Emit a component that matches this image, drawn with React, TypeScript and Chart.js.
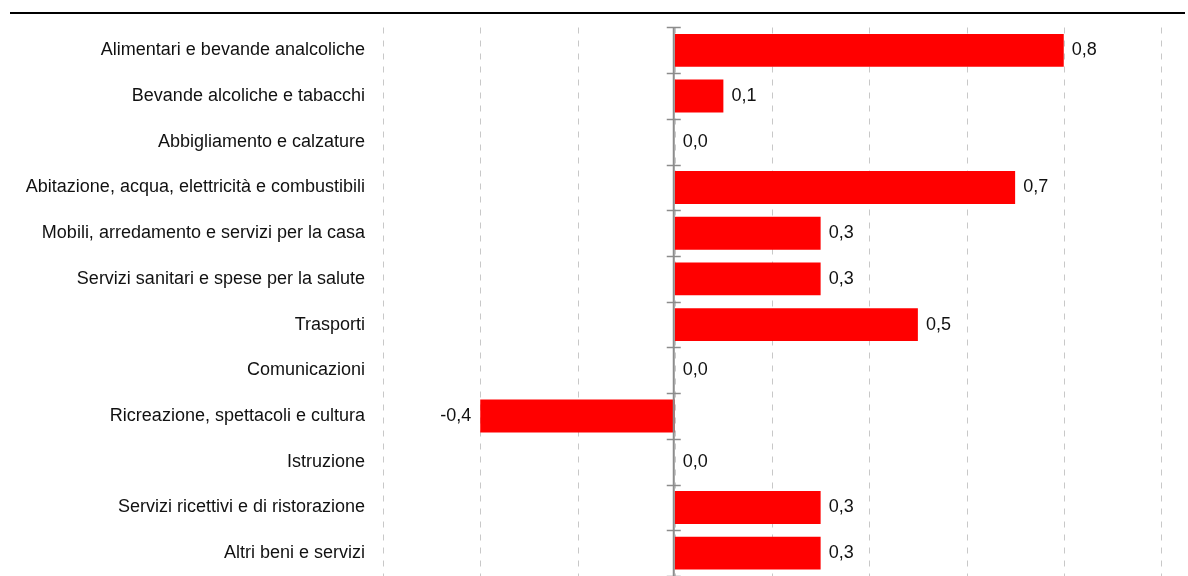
import React, { useEffect, useRef } from "react";
import { Chart, registerables } from "chart.js";

Chart.register(...registerables);

const categories = [
  "Alimentari e bevande analcoliche",
  "Bevande alcoliche e tabacchi",
  "Abbigliamento e calzature",
  "Abitazione, acqua, elettricità e combustibili",
  "Mobili, arredamento e servizi per la casa",
  "Servizi sanitari e spese per la salute",
  "Trasporti",
  "Comunicazioni",
  "Ricreazione, spettacoli e cultura",
  "Istruzione",
  "Servizi ricettivi e di ristorazione",
  "Altri beni e servizi",
];

const values = [0.8, 0.1, 0.0, 0.7, 0.3, 0.3, 0.5, 0.0, -0.4, 0.0, 0.3, 0.3];

const xMin = -0.6;
const xMax = 1.0;
const xStep = 0.2;

const FONT = "'Liberation Sans', Arial, sans-serif";

const fmt = (v: number) => v.toFixed(1).replace(".", ",");

const decorPlugin = {
  id: "decor",
  beforeDatasetsDraw(chart: any) {
    const { ctx, chartArea, scales } = chart;
    const x = scales.x;
    ctx.save();
    ctx.strokeStyle = "#c8c8c8";
    ctx.lineWidth = 1;
    ctx.setLineDash([6, 7]);
    const n = Math.round((xMax - xMin) / xStep);
    for (let i = 0; i <= n; i++) {
      const v = xMin + i * xStep;
      const px = Math.round(x.getPixelForValue(v)) + 0.5;
      ctx.beginPath();
      ctx.moveTo(px, chartArea.top);
      ctx.lineTo(px, chartArea.bottom);
      ctx.stroke();
    }
    ctx.restore();
  },
  afterDatasetsDraw(chart: any) {
    const { ctx, chartArea, scales } = chart;
    const x = scales.x;
    const y = scales.y;
    const x0 = x.getPixelForValue(0);
    ctx.save();
    ctx.strokeStyle = "#8c8c8c";
    ctx.lineWidth = 2;
    ctx.beginPath();
    ctx.moveTo(x0 - 1, chartArea.top);
    ctx.lineTo(x0 - 1, chartArea.bottom);
    ctx.stroke();
    const step = y.getPixelForValue(1) - y.getPixelForValue(0);
    ctx.lineWidth = 1.5;
    for (let i = 0; i <= categories.length; i++) {
      const py = Math.round(y.getPixelForValue(0) - step / 2 + i * step) + 0.5;
      ctx.beginPath();
      ctx.moveTo(x0 - 8, py);
      ctx.lineTo(x0 + 6, py);
      ctx.stroke();
    }
    ctx.fillStyle = "#111";
    ctx.font = `18px ${FONT}`;
    ctx.textBaseline = "middle";
    values.forEach((v, i) => {
      const py = y.getPixelForValue(i);
      const px = x.getPixelForValue(v);
      if (v < 0) {
        ctx.textAlign = "right";
        ctx.fillText(fmt(v), px - 9, py);
      } else {
        ctx.textAlign = "left";
        ctx.fillText(fmt(v), px + 8, py);
      }
    });
    ctx.restore();
  },
  afterDraw(chart: any) {
    const { ctx } = chart;
    ctx.save();
    ctx.strokeStyle = "#000";
    ctx.lineWidth = 2;
    ctx.beginPath();
    ctx.moveTo(10, 13);
    ctx.lineTo(1185, 13);
    ctx.stroke();
    ctx.restore();
  },
};

export default function App() {
  const ref = useRef<HTMLCanvasElement | null>(null);

  useEffect(() => {
    document.body.style.margin = "0";
    if (!ref.current) return;
    const chart = new Chart(ref.current, {
      type: "bar",
      data: {
        labels: categories,
        datasets: [
          {
            data: values,
            backgroundColor: "#ff0000",
            borderWidth: 0,
            categoryPercentage: 0.8,
            barPercentage: 0.9,
          },
        ],
      },
      options: {
        indexAxis: "y",
        animation: false,
        responsive: false,
        maintainAspectRatio: false,
        layout: { padding: { top: 27.5, right: 27, bottom: 0, left: 0 } },
        plugins: {
          legend: { display: false },
          tooltip: { enabled: false },
        },
        scales: {
          x: {
            display: false,
            min: xMin,
            max: xMax,
          },
          y: {
            ticks: {
              padding: 18,
              color: "#111",
              font: { family: FONT, size: 18 },
            },
            grid: { display: false, drawTicks: false },
            border: { display: false },
            afterFit: (scale: any) => {
              scale.width = 383;
              scale.paddingTop = 0;
              scale.paddingBottom = 0;
            },
          } as any,
        },
      },
      plugins: [decorPlugin],
    });
    return () => chart.destroy();
  }, []);

  return (
    <div style={{ width: 1188, height: 576 }}>
      <canvas ref={ref} width={1188} height={576} style={{ display: "block" }} />
    </div>
  );
}
